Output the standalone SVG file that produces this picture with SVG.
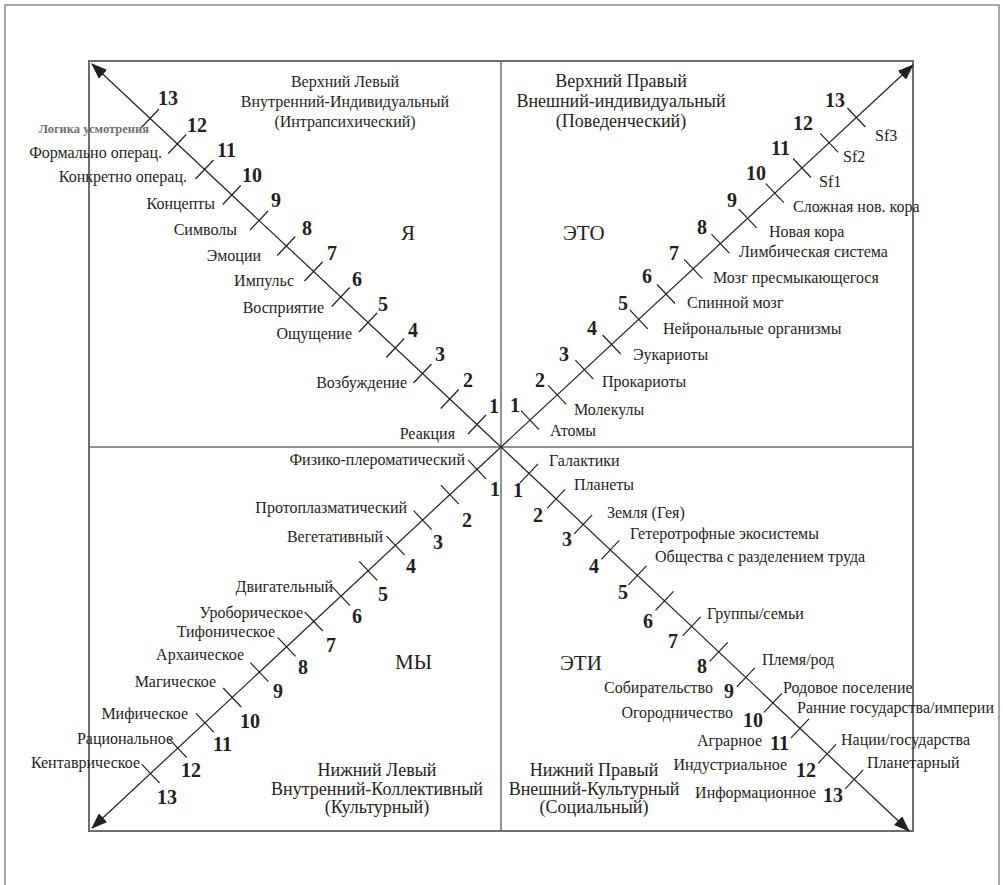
<svg xmlns="http://www.w3.org/2000/svg" width="1003" height="885" viewBox="0 0 1003 885">
<style>
text{font-family:"Liberation Serif","Times New Roman",serif;fill:#231f20}
.lb{font-size:16px}
.n{font-size:20px;font-weight:bold}
.h{font-size:18px;text-anchor:middle}
.hs{font-size:16px}
.big{font-size:21px}
.e{text-anchor:end}
.frame{fill:none;stroke:#6d6d6d;stroke-width:2}
.outer{fill:none;stroke:#8a8a8a;stroke-width:1.5}
.cross{stroke:#6d6d6d;stroke-width:1.5;fill:none}
.axis{stroke:#231f20;stroke-width:1.2;fill:none}
.tick{stroke:#231f20;stroke-width:1.2;fill:none}
.gray{font-size:12.5px;font-weight:bold;fill:#6f6f6f}
</style>
<defs>
<marker id="ah" viewBox="0 0 16 12" refX="15" refY="6" markerWidth="16" markerHeight="12" orient="auto" markerUnits="userSpaceOnUse">
<path d="M0,0 L16,6 L0,12 z" fill="#231f20"/>
</marker>
</defs>
<rect class="outer" x="5" y="5" width="994" height="900"/>
<g id="connectors">
<rect class="frame" x="89" y="61" width="824" height="770"/>
<line class="cross" x1="501" y1="61" x2="501" y2="831"/>
<line class="cross" x1="89" y1="447" x2="913" y2="447"/>
<line class="axis" x1="501" y1="447" x2="92" y2="64" marker-end="url(#ah)"/>
<line class="axis" x1="501" y1="447" x2="913" y2="65" marker-end="url(#ah)"/>
<line class="axis" x1="501" y1="447" x2="92" y2="828" marker-end="url(#ah)"/>
<line class="axis" x1="501" y1="447" x2="909" y2="831" marker-end="url(#ah)"/>
<path class="tick" d="M477 424.5m-9 9.5l18 -19 M449.75 399m-9 9.5l18 -19 M422.5 373.5m-9 9.5l18 -19 M395.25 348m-9 9.5l18 -19 M368 322.5m-9 9.5l18 -19 M340.75 297m-9 9.5l18 -19 M313.5 271.5m-9 9.5l18 -19 M286.25 246m-9 9.5l18 -19 M259 220.5m-9 9.5l18 -19 M231.75 195m-9 9.5l18 -19 M204.5 169.5m-9 9.5l18 -19 M177.25 144m-9 9.5l18 -19 M150 118.5m-9 9.5l18 -19"/>
<path class="tick" d="M530 420.1m-9 -9.5l18 19 M557.2 394.9m-9 -9.5l18 19 M584.4 369.7m-9 -9.5l18 19 M611.6 344.5m-9 -9.5l18 19 M638.8 319.3m-9 -9.5l18 19 M666 294m-9 -9.5l18 19 M693.2 268.8m-9 -9.5l18 19 M720.4 243.6m-9 -9.5l18 19 M747.6 218.4m-9 -9.5l18 19 M774.8 193.2m-9 -9.5l18 19 M802 168m-9 -9.5l18 19 M829.2 142.8m-9 -9.5l18 19 M856.4 117.5m-9 -9.5l18 19"/>
<path class="tick" d="M477 469.4m-9 -9.5l18 19 M449.8 494.7m-9 -9.5l18 19 M422.6 520.1m-9 -9.5l18 19 M395.4 545.4m-9 -9.5l18 19 M368.2 570.8m-9 -9.5l18 19 M341 596.1m-9 -9.5l18 19 M313.8 621.5m-9 -9.5l18 19 M286.6 646.8m-9 -9.5l18 19 M259.4 672.2m-9 -9.5l18 19 M232.2 697.5m-9 -9.5l18 19 M205 722.9m-9 -9.5l18 19 M177.8 748.2m-9 -9.5l18 19 M150.6 773.6m-9 -9.5l18 19"/>
<path class="tick" d="M529 473.3m-9 9.5l18 -19 M556.1 498.8m-9 9.5l18 -19 M583.2 524.4m-9 9.5l18 -19 M610.3 549.9m-9 9.5l18 -19 M637.4 575.4m-9 9.5l18 -19 M664.5 600.9m-9 9.5l18 -19 M691.6 626.4m-9 9.5l18 -19 M718.7 651.9m-9 9.5l18 -19 M745.8 677.4m-9 9.5l18 -19 M772.9 702.9m-9 9.5l18 -19 M800 728.4m-9 9.5l18 -19 M827.1 753.9m-9 9.5l18 -19 M854.2 779.4m-9 9.5l18 -19"/>
</g>
<g id="upper-left">
<text class="h hs" x="345" y="87">Верхний Левый</text>
<text class="h hs" x="345" y="107">Внутренний-Индивидуальный</text>
<text class="h hs" x="345" y="127">(Интрапсихический)</text>
<text class="big" x="401" y="240">Я</text>
<text class="gray e" x="149" y="133">Логика усмотрения</text>
<text class="lb e" x="162" y="158">Формально операц.</text>
<text class="lb e" x="187" y="182">Конкретно операц.</text>
<text class="lb e" x="215" y="209">Концепты</text>
<text class="lb e" x="237" y="235">Символы</text>
<text class="lb e" x="261" y="261">Эмоции</text>
<text class="lb e" x="294" y="286">Импульс</text>
<text class="lb e" x="324" y="313">Восприятие</text>
<text class="lb e" x="352" y="339">Ощущение</text>
<text class="lb e" x="407" y="388">Возбуждение</text>
<text class="lb e" x="455" y="439">Реакция</text>
<text class="n" x="158" y="105">13</text>
<text class="n" x="187" y="132">12</text>
<text class="n" x="217" y="157">11</text>
<text class="n" x="242" y="182">10</text>
<text class="n" x="271" y="207">9</text>
<text class="n" x="302" y="235">8</text>
<text class="n" x="327" y="260">7</text>
<text class="n" x="352" y="286">6</text>
<text class="n" x="378" y="311">5</text>
<text class="n" x="408" y="337">4</text>
<text class="n" x="435" y="361">3</text>
<text class="n" x="463" y="387">2</text>
<text class="n" x="489" y="413">1</text>
</g>
<g id="upper-right">
<text class="h" x="621" y="87">Верхний Правый</text>
<text class="h" x="621" y="107">Внешний-индивидуальный</text>
<text class="h" x="621" y="127">(Поведенческий)</text>
<text class="big" x="563" y="240">ЭТО</text>
<text class="n e" x="845" y="107">13</text>
<text class="n e" x="813" y="130">12</text>
<text class="n e" x="790" y="155">11</text>
<text class="n e" x="766" y="180">10</text>
<text class="n e" x="737" y="207">9</text>
<text class="n e" x="707" y="234">8</text>
<text class="n e" x="679" y="260">7</text>
<text class="n e" x="652" y="283">6</text>
<text class="n e" x="628" y="310">5</text>
<text class="n e" x="597" y="335">4</text>
<text class="n e" x="569" y="361">3</text>
<text class="n e" x="545" y="387">2</text>
<text class="n e" x="520" y="412">1</text>
<text class="lb" x="875" y="141">Sf3</text>
<text class="lb" x="843" y="162">Sf2</text>
<text class="lb" x="819" y="187">Sf1</text>
<text class="lb" x="793" y="212">Сложная нов. кора</text>
<text class="lb" x="769" y="237">Новая кора</text>
<text class="lb" x="739" y="257">Лимбическая система</text>
<text class="lb" x="713" y="283">Мозг пресмыкающегося</text>
<text class="lb" x="687" y="308">Спинной мозг</text>
<text class="lb" x="663" y="334">Нейрональные организмы</text>
<text class="lb" x="633" y="360">Эукариоты</text>
<text class="lb" x="602" y="387">Прокариоты</text>
<text class="lb" x="574" y="415">Молекулы</text>
<text class="lb" x="550" y="436">Атомы</text>
</g>
<g id="lower-left">
<text class="h" x="377" y="776">Нижний Левый</text>
<text class="h" x="377" y="795">Внутренний-Коллективный</text>
<text class="h" x="377" y="813">(Культурный)</text>
<text class="big" x="395" y="669">МЫ</text>
<text class="lb e" x="465" y="465">Физико-плероматический</text>
<text class="lb e" x="407" y="513">Протоплазматический</text>
<text class="lb e" x="383" y="542">Вегетативный</text>
<text class="lb e" x="333" y="592">Двигательный</text>
<text class="lb e" x="303" y="618">Уроборическое</text>
<text class="lb e" x="275" y="637">Тифоническое</text>
<text class="lb e" x="244" y="660">Архаическое</text>
<text class="lb e" x="216" y="687">Магическое</text>
<text class="lb e" x="188" y="719">Мифическое</text>
<text class="lb e" x="173" y="744">Рациональное</text>
<text class="lb e" x="140" y="768">Кентаврическое</text>
<text class="n" x="490" y="496">1</text>
<text class="n" x="462" y="527">2</text>
<text class="n" x="433" y="549">3</text>
<text class="n" x="406" y="573">4</text>
<text class="n" x="378" y="601">5</text>
<text class="n" x="352" y="623">6</text>
<text class="n" x="326" y="652">7</text>
<text class="n" x="298" y="674">8</text>
<text class="n" x="273" y="698">9</text>
<text class="n" x="240" y="728">10</text>
<text class="n" x="213" y="751">11</text>
<text class="n" x="181" y="777">12</text>
<text class="n" x="157" y="804">13</text>
</g>
<g id="lower-right">
<text class="h" x="594" y="776">Нижний Правый</text>
<text class="h" x="594" y="795">Внешний-Культурный</text>
<text class="h" x="594" y="813">(Социальный)</text>
<text class="big" x="560" y="670">ЭТИ</text>
<text class="lb" x="549" y="466">Галактики</text>
<text class="lb" x="574" y="490">Планеты</text>
<text class="lb" x="607" y="518">Земля (Гея)</text>
<text class="lb" x="630" y="539">Гетеротрофные экосистемы</text>
<text class="lb" x="655" y="562">Общества с разделением труда</text>
<text class="lb" x="707" y="619">Группы/семьи</text>
<text class="lb" x="762" y="665">Племя/род</text>
<text class="lb" x="783" y="693">Родовое поселение</text>
<text class="lb" x="797" y="713">Ранние государства/империи</text>
<text class="lb" x="841" y="745">Нации/государства</text>
<text class="lb" x="867" y="768">Планетарный</text>
<text class="lb e" x="713" y="693">Собирательство</text>
<text class="lb e" x="733" y="718">Огородничество</text>
<text class="lb e" x="762" y="746">Аграрное</text>
<text class="lb e" x="787" y="770">Индустриальное</text>
<text class="lb e" x="816" y="798">Информационное</text>
<text class="n" x="513" y="497">1</text>
<text class="n" x="533" y="522">2</text>
<text class="n" x="562" y="546">3</text>
<text class="n" x="589" y="573">4</text>
<text class="n" x="618" y="599">5</text>
<text class="n" x="643" y="628">6</text>
<text class="n" x="668" y="648">7</text>
<text class="n" x="697" y="673">8</text>
<text class="n" x="724" y="698">9</text>
<text class="n" x="743" y="727">10</text>
<text class="n" x="770" y="750">11</text>
<text class="n" x="796" y="777">12</text>
<text class="n" x="823" y="802">13</text>
</g>
</svg>
